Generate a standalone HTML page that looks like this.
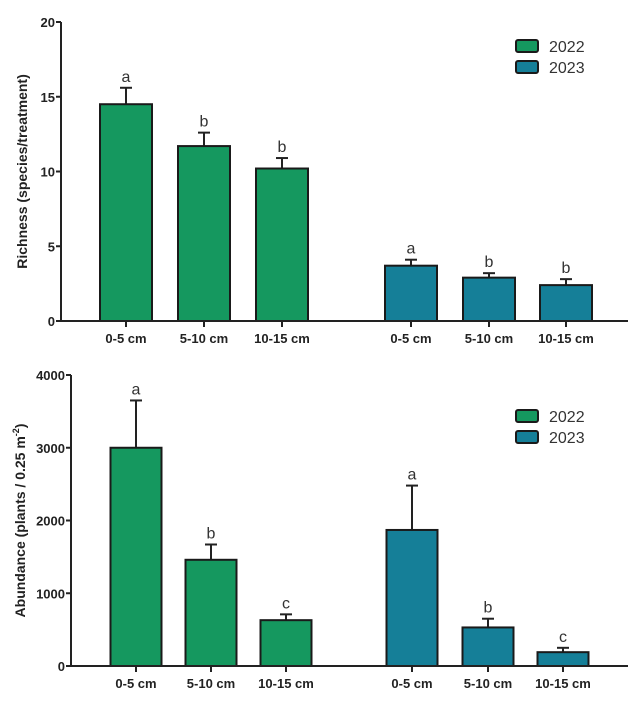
<!DOCTYPE html>
<html><head><meta charset="utf-8"><style>
body{margin:0;background:#fff;}
svg text{font-family:"Liberation Sans",Arial,sans-serif;}
</style></head><body>
<svg id="c" width="643" height="718" xmlns="http://www.w3.org/2000/svg"></svg>
<script>
const categories = ["0-5 cm","5-10 cm","10-15 cm"];
const years = ["2022","2023"];
const richness2022 = [14.5, 11.7, 10.2];
const richness2023 = [3.7, 2.9, 2.4];
const richnessErr2022 = [1.1, 0.9, 0.7];
const richnessErr2023 = [0.4, 0.3, 0.4];
const richnessLetters2022 = ["a","b","b"];
const richnessLetters2023 = ["a","b","b"];
const richnessTicks = [0,5,10,15,20];
const abund2022 = [3000, 1460, 630];
const abund2023 = [1870, 530, 190];
const abundErr2022 = [650, 210, 80];
const abundErr2023 = [610, 120, 60];
const abundLetters2022 = ["a","b","c"];
const abundLetters2023 = ["a","b","c"];
const abundTicks = [0,1000,2000,3000,4000];

const NS="http://www.w3.org/2000/svg";
const svg=document.getElementById('c');
const colors=["#15985f","#157f98"];
function el(t,a,p){const e=document.createElementNS(NS,t);for(const k in a)e.setAttribute(k,a[k]);(p||svg).appendChild(e);return e;}

function panel(o){
  const g=el('g',{});
  
  
  const y=v=>o.y0-(v/o.max)*(o.y0-o.yTop);
  // bars
  const groups=[[o.v1,o.e1,o.l1,o.x1],[o.v2,o.e2,o.l2,o.x2]];
  groups.forEach((gr,gi)=>{
    gr[0].forEach((v,i)=>{
      const cx=gr[3][i], w=o.bw;
      const top=y(v), et=y(v+gr[1][i]);
      const ln=el('line',{x1:cx,x2:cx,y1:top,y2:et,stroke:'#222','stroke-width':2},g);
      
      
      const cap=el('line',{x1:cx-6,x2:cx+6,y1:et,y2:et,stroke:'#222','stroke-width':2},g);
      
      
      const r=el('rect',{x:cx-w/2,y:top,width:w,height:o.y0-top,fill:colors[gi],stroke:'#1a1a1a','stroke-width':2},g);
      
      
      const t=el('text',{x:cx,y:et-6,'text-anchor':'middle','font-size':16,fill:'#333'},g);
      t.textContent=gr[2][i];
      
      
      const tk=el('line',{x1:cx,x2:cx,y1:o.y0,y2:o.y0+6,stroke:'#222','stroke-width':2},g);
      
      
      const xl=el('text',{x:cx,y:o.y0+22,'text-anchor':'middle','font-size':13,'font-weight':'bold',fill:'#222'},g);
      xl.textContent=categories[i];
      
      
    });
  });
  // axes
  const ya=el('line',{x1:o.ax,x2:o.ax,y1:o.yTop,y2:o.y0,stroke:'#222','stroke-width':2},g);
  
  
  const xa=el('line',{x1:o.ax-5,x2:628,y1:o.y0,y2:o.y0,stroke:'#222','stroke-width':2},g);
  
  
  o.ticks.forEach(t=>{
    const l=el('line',{x1:o.ax-5,x2:o.ax,y1:y(t),y2:y(t),stroke:'#222','stroke-width':2},g);
    
    
    const tx=el('text',{x:o.ax-6,y:y(t)+5,'text-anchor':'end','font-size':13,'font-weight':'bold',fill:'#222'},g);
    tx.textContent=t;
    
    
  });
  const yt=el('text',{transform:`translate(${o.titleX},${(o.y0+o.yTop)/2}) rotate(-90)`,'text-anchor':'middle','font-size':14,'font-weight':'bold',fill:'#222'},g);
  yt.innerHTML=o.title;
  
  
  // legend
  years.forEach((yr,i)=>{
    const ly=o.legY+i*21;
    const b=el('rect',{x:516,y:ly,width:22,height:12,rx:2,fill:colors[i],stroke:'#1a1a1a','stroke-width':2},g);
    
    
    const t=el('text',{x:549,y:ly+12,'font-size':16,fill:'#333'},g);
    t.textContent=yr;
    
    
  });
}
panel({name:'richness-panel',v1:richness2022,v2:richness2023,e1:richnessErr2022,e2:richnessErr2023,l1:richnessLetters2022,l2:richnessLetters2023,
  ticks:richnessTicks,max:20,y0:321,yTop:22,ax:61,x1:[126,204,282],x2:[411,489,566],bw:52,legY:40,titleX:27,
  title:'Richness (species/treatment)'});
panel({name:'abundance-panel',v1:abund2022,v2:abund2023,e1:abundErr2022,e2:abundErr2023,l1:abundLetters2022,l2:abundLetters2023,
  ticks:abundTicks,max:4000,y0:666,yTop:375,ax:71,x1:[136,211,286],x2:[412,488,563],bw:51,legY:410,titleX:25,
  title:'Abundance (plants / 0.25 m<tspan font-size="9" dy="-6">-2</tspan><tspan dy="6">)</tspan>'});
</script>
</body></html>
